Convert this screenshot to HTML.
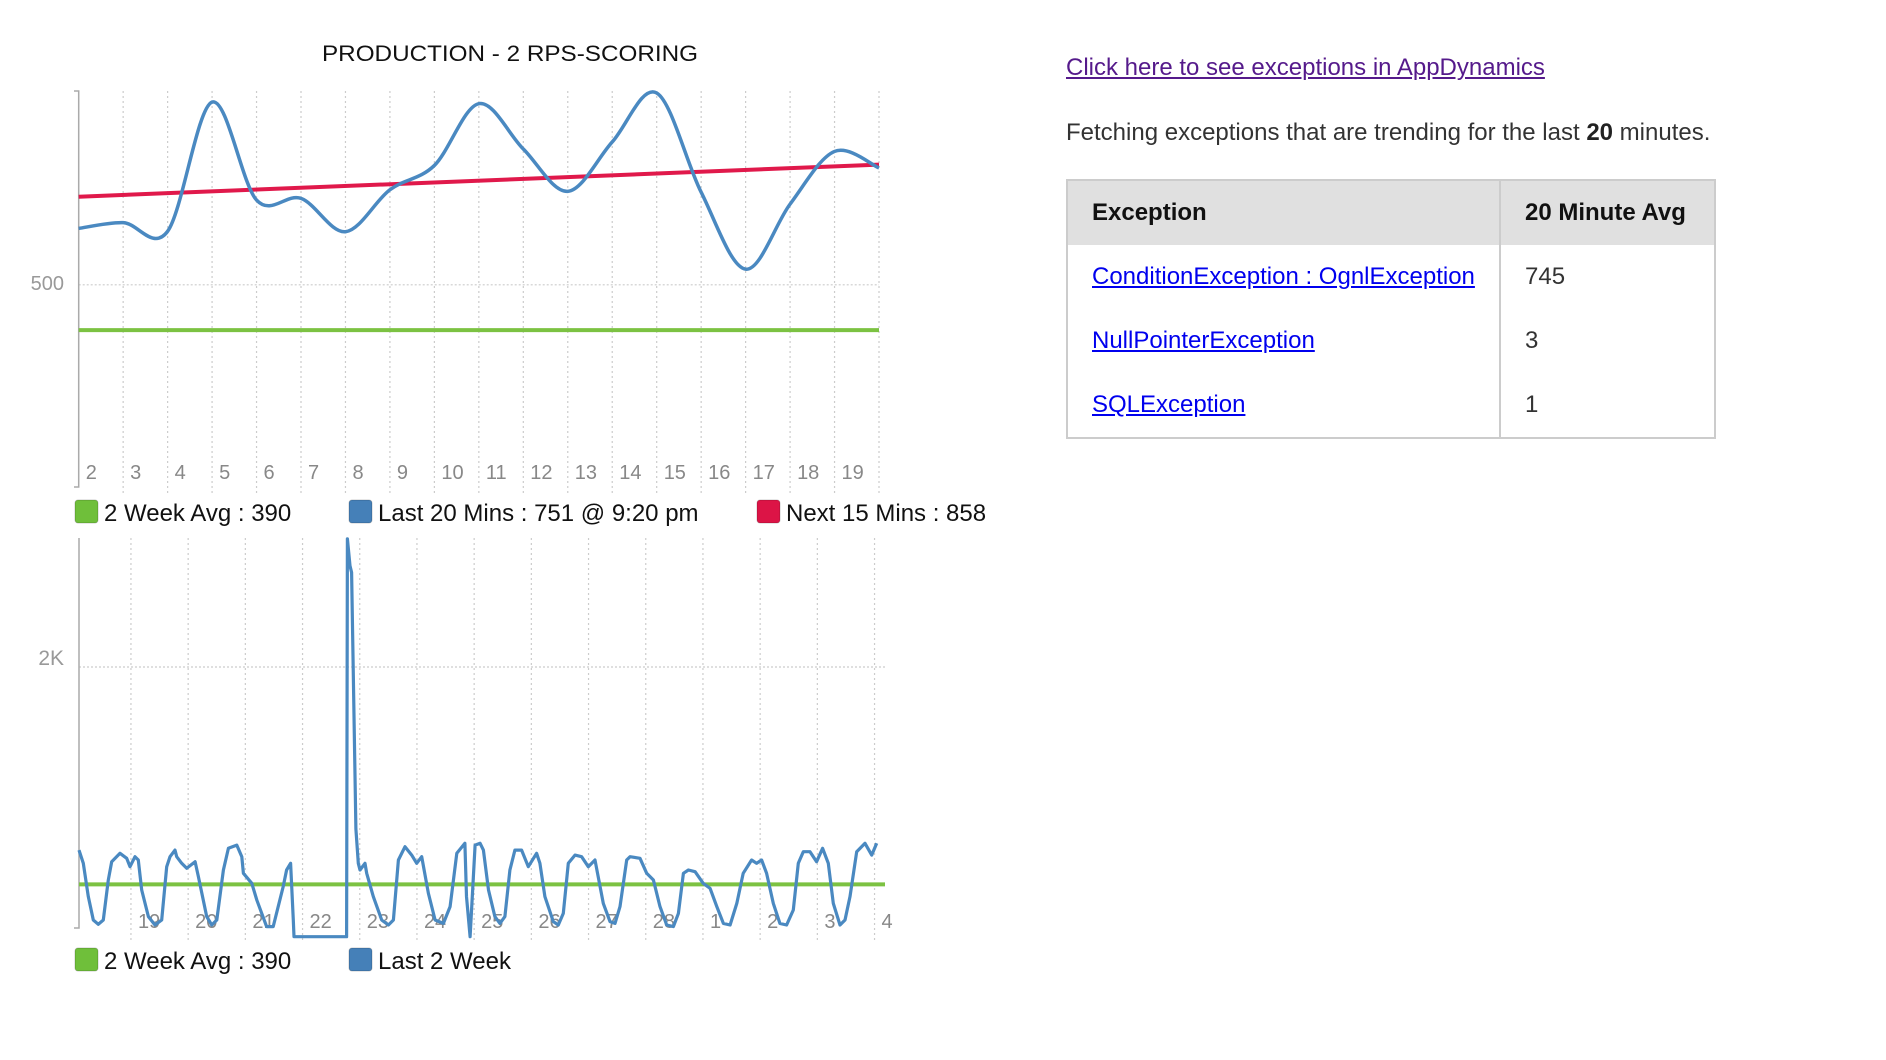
<!DOCTYPE html>
<html><head><meta charset="utf-8"><style>
html,body{margin:0;padding:0;background:#fff;width:1886px;height:1060px;overflow:hidden;font-family:"Liberation Sans",Arial,sans-serif}
svg{position:absolute;left:0;top:0}
#panel{position:absolute;left:1066px;top:0;width:810px}
#link{position:absolute;left:0;top:54px;font-size:24px;color:#551a8b;text-decoration:underline;white-space:nowrap}
#desc{position:absolute;left:0;top:119px;font-size:24px;color:#333;white-space:nowrap}
table{position:absolute;left:0;top:179px;border-collapse:collapse;border:2px solid #ccc;font-size:24px}
th{background:#e0e0e0;text-align:left;height:64px;padding:0 0 0 24px;color:#111}
td{height:64px;padding:0 0 0 24px;color:#333}
th+th,td+td{border-left:2px solid #ccc}
td a{color:#0000ee;text-decoration:underline}
</style></head><body>
<svg id="chart" width="1886" height="1060"></svg>
<div id="panel">
<a id="link" href="#">Click here to see exceptions in AppDynamics</a>
<div id="desc">Fetching exceptions that are trending for the last <b style="color:#222">20</b> minutes.</div>
<table>
<tr><th style="width:407px">Exception</th><th style="width:189px">20 Minute Avg</th></tr>
<tr><td><a href="#">ConditionException : OgnlException</a></td><td>745</td></tr>
<tr><td><a href="#">NullPointerException</a></td><td>3</td></tr>
<tr><td><a href="#">SQLException</a></td><td>1</td></tr>
</table>
</div>
<script>
// ---- top chart data ----
const topMinutes = ['2','3','4','5','6','7','8','9','10','11','12','13','14','15','16','17','18','19','20'];
const topLabels = ['2','3','4','5','6','7','8','9','10','11','12','13','14','15','16','17','18','19'];
const last20Values = [637,651,630,944,706,710,629,731,790,940,830,727,847,966,725,538,696,824,784];
const next15Start = 714;
const next15End = 792;
const twoWeekAvg = 390;
const topYTicks = [500];
// ---- bottom chart data ----
const bottomHours = [0,1.8,3.9,6.0,8.1,10.2,12.3,13.7,17.2,20.0,21.4,23.5,24.9,26.3,29.1,31.9,34.7,36.8,38.2,40.3,41.0,43.1,45.2,48.7,50.1,53.6,55.7,57.8,60.6,62.7,66.2,68.3,69.0,72.5,74.6,78.7,81.5,85.7,87.1,88.8,89.9,90.2,112.3,112.6,113.7,114.4,116.2,117.2,117.9,120.0,120.7,123.5,127.0,129.8,131.9,134.0,136.8,139.6,141.7,143.8,146.6,149.4,152.9,155.7,158.5,161.9,162.6,164.1,166.2,168.3,169.7,171.8,174.5,176.6,178.7,180.8,182.9,185.7,188.5,192.0,193.4,195.5,199.0,201.1,203.2,205.3,208.1,210.9,213.7,216.5,220.0,222.8,224.9,227.0,229.8,231.2,235.4,238.2,241.0,243.8,246.6,249.4,251.5,253.6,255.7,258.5,261.9,264.8,267.6,270.4,273.2,276.0,278.7,282.2,284.3,286.4,288.5,291.3,294.1,296.9,299.7,301.8,303.9,306.7,309.5,312.0,314.4,316.5,319.3,321.4,323.5,326.3,329.8,332.6,334.7];
const bottomValues = [644,546,299,126,94,126,422,558,620,583,521,595,570,348,151,89,126,521,595,644,595,546,509,558,447,151,89,126,496,657,681,595,472,398,274,77,77,373,496,546,126,2,2,2950,2750,2700,800,546,496,546,472,299,126,89,126,570,669,607,546,595,323,126,101,225,620,694,299,2,681,694,644,348,151,101,151,496,644,644,521,620,546,299,114,89,175,546,607,595,521,570,249,114,101,225,570,595,583,472,422,225,89,77,175,472,496,484,398,360,225,101,89,249,472,570,546,570,472,249,101,89,200,546,632,632,558,657,546,249,89,126,299,632,694,607,694];
const bottomDayLabels = ['19','20','21','22','23','24','25','26','27','28','1','2','3','4'];
const firstDayHour = 21.8;
const bottomYTicks = [2000];

const NS='http://www.w3.org/2000/svg';
const svg=document.getElementById('chart');
function mk(tag,attrs,parent){const e=document.createElementNS(NS,tag);for(const k in attrs)e.setAttribute(k,attrs[k]);(parent||svg).appendChild(e);return e;}

// top scales
const tx0=78.7, tx1=879, ty0=490.6, tyPer=0.4116;
const tX=i=>tx0+i*(tx1-tx0)/(topMinutes.length-1);
const tY=v=>ty0-v*tyPer;
// bottom scales
const bx0=79, bPerHour=2.3833, by0=937, byPer=0.135;
const bX=h=>bx0+h*bPerHour;
const bY=v=>by0-v*byPer;

// title
let t=mk('text',{x:510,y:61,'text-anchor':'middle','font-size':22,fill:'#111',textLength:376,lengthAdjust:'spacingAndGlyphs'});

t.textContent='PRODUCTION - 2 RPS-SCORING';

// top grid
for(let i=1;i<topMinutes.length;i++){
  const g=mk('line',{x1:tX(i),x2:tX(i),y1:91,y2:493,stroke:'#ccc','stroke-width':1.2,'stroke-dasharray':'2,3'});
  
}
topYTicks.forEach(v=>{
  const g=mk('line',{x1:tx0,x2:tx1,y1:tY(v),y2:tY(v),stroke:'#ccc','stroke-width':1.2,'stroke-dasharray':'2,2'});
  
  const l=mk('text',{x:64,y:tY(v)+5,'text-anchor':'end','font-size':20,fill:'#999'});
  
  l.textContent=String(v);
});
let ax=mk('path',{d:`M74,91 H78.7 V487 H74`,stroke:'#aaa','stroke-width':1.5,fill:'none'});

topLabels.forEach((s,i)=>{
  const l=mk('text',{x:tX(i)+7,y:479,'font-size':20,fill:'#888'});
  
  l.textContent=s;
});
// green avg
let ga=mk('line',{x1:tx0,x2:tx1,y1:tY(twoWeekAvg),y2:tY(twoWeekAvg),stroke:'#7cc242','stroke-width':4});

// red forecast
let rl=mk('line',{x1:tx0,x2:tx1,y1:tY(next15Start),y2:tY(next15End),stroke:'#e0194b','stroke-width':4});

// blue smooth
function smooth(pts){let d=`M${pts[0][0]},${pts[0][1]}`;for(let i=0;i<pts.length-1;i++){const p0=pts[Math.max(0,i-1)],p1=pts[i],p2=pts[i+1],p3=pts[Math.min(pts.length-1,i+2)];const c1=[p1[0]+(p2[0]-p0[0])/6,p1[1]+(p2[1]-p0[1])/6],c2=[p2[0]-(p3[0]-p1[0])/6,p2[1]-(p3[1]-p1[1])/6];d+=` C${c1[0]},${c1[1]} ${c2[0]},${c2[1]} ${p2[0]},${p2[1]}`;}return d;}
const tp=last20Values.map((v,i)=>[tX(i),tY(v)]);
let bl=mk('path',{d:smooth(tp),stroke:'#4a89c1','stroke-width':3.5,fill:'none','stroke-linejoin':'round'});


// legends
function legend(x,y,color,text,name){
  const r=mk('rect',{x:x,y:y-12,width:23,height:23,rx:3,fill:color,stroke:'rgba(0,0,0,0.2)'});
  
  const l=mk('text',{x:x+29,y:y+9,'font-size':24,fill:'#111'});
  
  l.textContent=text;
}
legend(75,512,'#6fbf3a','2 Week Avg : 390','legend-two-week-avg');
legend(349,512,'#4580b8','Last 20 Mins : 751 @ 9:20 pm','legend-last-20-mins');
legend(757,512,'#dc1446','Next 15 Mins : 858','legend-next-15-mins');
legend(75,960,'#6fbf3a','2 Week Avg : 390','legend-bottom-two-week-avg');
legend(349,960,'#4580b8','Last 2 Week','legend-last-2-week');

// bottom grid
bottomDayLabels.forEach((s,i)=>{
  const x=bX(firstDayHour+24*i);
  const g=mk('line',{x1:x,x2:x,y1:538,y2:940,stroke:'#ccc','stroke-width':1.2,'stroke-dasharray':'2,3'});
  
  const l=mk('text',{x:x+7,y:928,'font-size':20,fill:'#888'});
  
  l.textContent=s;
});
bottomYTicks.forEach(v=>{
  const g=mk('line',{x1:bx0,x2:885,y1:bY(v),y2:bY(v),stroke:'#ccc','stroke-width':1.2,'stroke-dasharray':'2,2'});
  
  const l=mk('text',{x:64,y:bY(v)-2,'text-anchor':'end','font-size':21,fill:'#999'});
  
  l.textContent=(v/1000)+'K';
});
let ax2=mk('path',{d:`M79,538 V928 H74`,stroke:'#aaa','stroke-width':1.5,fill:'none'});

let ga2=mk('line',{x1:bx0,x2:885,y1:bY(twoWeekAvg),y2:bY(twoWeekAvg),stroke:'#7cc242','stroke-width':4});

const bp=bottomHours.map((h,i)=>`${i?'L':'M'}${bX(h).toFixed(1)},${bY(bottomValues[i]).toFixed(1)}`).join(' ');
let bl2=mk('path',{d:bp,stroke:'#4a89c1','stroke-width':3.2,fill:'none','stroke-linejoin':'round'});

</script>
</body></html>
